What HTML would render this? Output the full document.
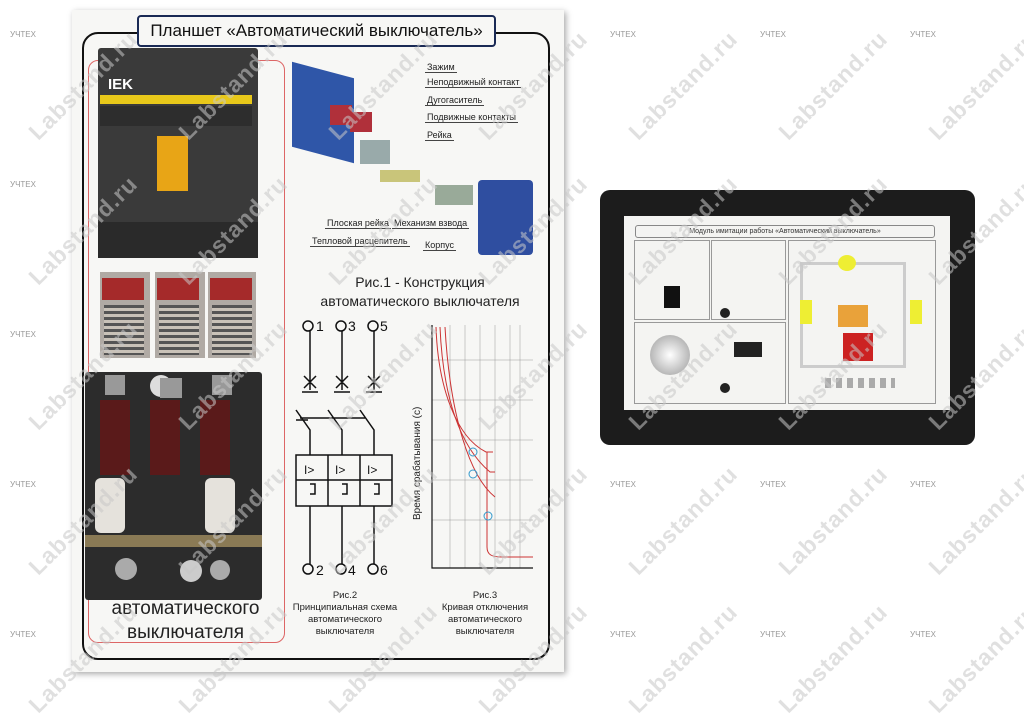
<!DOCTYPE html>
<html><head><meta charset="utf-8"><style>
body{margin:0;width:1024px;height:682px;overflow:hidden;background:#fff;position:relative;font-family:"Liberation Sans",sans-serif}
.a{position:absolute}
.wm{position:absolute;color:#c8c8c8;font-size:23px;font-weight:bold;transform:rotate(-45deg);white-space:nowrap;opacity:.55;z-index:20;letter-spacing:1px}
.lg{position:absolute;color:#999;font-size:8px;z-index:19}
.lbl{position:absolute;font-size:9px;color:#222;border-bottom:1px solid #444;padding:0 2px}
</style></head><body>
<div class="a" style="left:72px;top:10px;width:492px;height:662px;background:#f7f7f5;box-shadow:2px 2px 6px #aaa"></div>
<div class="a" style="left:82px;top:32px;width:464px;height:624px;border:2px solid #111;border-radius:16px"></div>
<div class="a" style="left:137px;top:15px;width:355px;height:28px;border:2px solid #1a2a55;border-radius:4px;background:#f7f7f5;font-size:17px;text-align:center;line-height:28px;color:#111">Планшет «Автоматический выключатель»</div>
<div class="a" style="left:88px;top:60px;width:195px;height:581px;border:1px solid #d66;border-radius:10px"></div>
<div class="a" style="left:98px;top:48px;width:160px;height:210px;background:#3a3a3a;border-radius:3px"></div>
<div class="a" style="left:100px;top:95px;width:152px;height:9px;background:#e8c81a"></div>
<div class="a" style="left:108px;top:76px;font:bold 15px 'Liberation Sans';color:#fff">IEK</div>
<div class="a" style="left:100px;top:106px;width:152px;height:20px;background:#2d2d2d"></div>
<div class="a" style="left:157px;top:136px;width:31px;height:55px;background:#e8a516"></div>
<div class="a" style="left:98px;top:222px;width:160px;height:36px;background:#2a2a2a"></div>
<div class="a" style="left:100px;top:272px;width:50px;height:86px;background:#b0aaa4"></div>
<div class="a" style="left:155px;top:272px;width:50px;height:86px;background:#b0aaa4"></div>
<div class="a" style="left:208px;top:272px;width:48px;height:86px;background:#b0aaa4"></div>
<div class="a" style="left:102px;top:278px;width:42px;height:22px;background:#a52a2a"></div>
<div class="a" style="left:157px;top:278px;width:42px;height:22px;background:#a52a2a"></div>
<div class="a" style="left:210px;top:278px;width:42px;height:22px;background:#a52a2a"></div>
<div class="a" style="left:104px;top:305px;width:40px;height:50px;background:repeating-linear-gradient(#555 0 3px,#c9c2b8 3px 6px)"></div>
<div class="a" style="left:159px;top:305px;width:40px;height:50px;background:repeating-linear-gradient(#555 0 3px,#c9c2b8 3px 6px)"></div>
<div class="a" style="left:212px;top:305px;width:40px;height:50px;background:repeating-linear-gradient(#555 0 3px,#c9c2b8 3px 6px)"></div>
<div class="a" style="left:85px;top:372px;width:177px;height:228px;background:#2c2c2c;border-radius:3px"></div>
<div class="a" style="left:105px;top:375px;width:20px;height:20px;background:#999"></div>
<div class="a" style="left:150px;top:375px;width:22px;height:22px;background:#ddd;border-radius:50%"></div>
<div class="a" style="left:160px;top:378px;width:22px;height:20px;background:#999"></div>
<div class="a" style="left:212px;top:375px;width:20px;height:20px;background:#999"></div>
<div class="a" style="left:100px;top:400px;width:30px;height:75px;background:#5a1a1a"></div>
<div class="a" style="left:150px;top:400px;width:30px;height:75px;background:#5a1a1a"></div>
<div class="a" style="left:200px;top:400px;width:30px;height:75px;background:#5a1a1a"></div>
<div class="a" style="left:95px;top:478px;width:30px;height:55px;background:#e5e2dc;border-radius:6px"></div>
<div class="a" style="left:205px;top:478px;width:30px;height:55px;background:#e5e2dc;border-radius:6px"></div>
<div class="a" style="left:85px;top:535px;width:177px;height:12px;background:#8a7a55"></div>
<div class="a" style="left:115px;top:558px;width:22px;height:22px;background:#aaa;border-radius:50%"></div>
<div class="a" style="left:180px;top:560px;width:22px;height:22px;background:#ccc;border-radius:50%"></div>
<div class="a" style="left:210px;top:560px;width:20px;height:20px;background:#aaa;border-radius:50%"></div>
<div class="a" style="left:88px;top:597px;width:195px;text-align:center;font-size:19px;color:#222;line-height:24px">автоматического<br>выключателя</div>
<div class="a" style="left:292px;top:70px;width:62px;height:85px;background:#2f56a8;transform:skewY(15deg)"></div>
<div class="a" style="left:330px;top:105px;width:22px;height:20px;background:#b0303a"></div>
<div class="a" style="left:350px;top:112px;width:22px;height:20px;background:#b0303a"></div>
<div class="a" style="left:360px;top:140px;width:30px;height:24px;background:#9aa"></div>
<div class="a" style="left:380px;top:170px;width:40px;height:12px;background:#c9c57a"></div>
<div class="a" style="left:435px;top:185px;width:38px;height:20px;background:#9a9"></div>
<div class="a" style="left:478px;top:180px;width:55px;height:75px;background:#2f4ea0;border-radius:4px"></div>
<div class="lbl" style="left:425px;top:62px">Зажим</div>
<div class="lbl" style="left:425px;top:77px">Неподвижный контакт</div>
<div class="lbl" style="left:425px;top:95px">Дугогаситель</div>
<div class="lbl" style="left:425px;top:112px">Подвижные контакты</div>
<div class="lbl" style="left:425px;top:130px">Рейка</div>
<div class="lbl" style="left:325px;top:218px">Плоская рейка</div>
<div class="lbl" style="left:392px;top:218px">Механизм взвода</div>
<div class="lbl" style="left:310px;top:236px">Тепловой расцепитель</div>
<div class="lbl" style="left:423px;top:240px">Корпус</div>
<div class="a" style="left:290px;top:273px;width:260px;text-align:center;font-size:14px;color:#222;line-height:19px">Рис.1 - Конструкция<br>автоматического выключателя</div>
<svg class="a" style="left:290px;top:315px" width="260" height="320" viewBox="290 315 260 320">
<g stroke="#111" stroke-width="1.5" fill="none">
<circle cx="308" cy="326" r="5"/><circle cx="341" cy="326" r="5"/><circle cx="373" cy="326" r="5"/>
<circle cx="308" cy="569" r="5"/><circle cx="341" cy="569" r="5"/><circle cx="373" cy="569" r="5"/>
<path d="M310 331V390M342 331V390M374 331V390M302 392h16M334 392h16M366 392h16M304 376l12 12M316 376l-12 12M336 376l12 12M348 376l-12 12M368 376l12 12M380 376l-12 12"/>
<path d="M296 410l14 20v25M328 410l14 20v25M360 410l14 20v25M296 420l12 0M300 418h65"/>
<rect x="296" y="455" width="96" height="51"/><path d="M296 480h96M328 455v51M360 455v51M310 506v58M342 506v58M374 506v58"/>
<path d="M310 484h5v10h-5M342 484h5v10h-5M374 484h5v10h-5"/>
</g>
<g font-size="14" fill="#111" font-family="Liberation Sans"><text x="316" y="331">1</text><text x="348" y="331">3</text><text x="380" y="331">5</text><text x="316" y="575">2</text><text x="348" y="575">4</text><text x="380" y="575">6</text>
<text x="304" y="474" font-size="12">I&gt;</text><text x="335" y="474" font-size="12">I&gt;</text><text x="367" y="474" font-size="12">I&gt;</text></g>
<g stroke="#999" stroke-width=".5"><path d="M432 360h101M432 400h101M432 440h101M432 480h101M432 520h101M450 325v243M465 325v243M480 325v243M495 325v243M510 325v243M520 325v243"/></g>
<path d="M432 325V568H533" stroke="#111" stroke-width="1.2" fill="none"/>
<g stroke="#c33" fill="none"><path d="M436 327c2 60 20 110 50 125h7"/><path d="M440 327c3 70 20 120 50 145h5"/><path d="M445 327c5 90 25 150 50 170"/><path d="M487 452v95c0 8 5 10 15 10h31"/></g>
<g stroke="#39c" fill="none"><circle cx="473" cy="452" r="4"/><circle cx="473" cy="474" r="4"/><circle cx="488" cy="516" r="4"/></g>
<text x="420" y="520" font-size="10" transform="rotate(-90 420 520)" fill="#222">Время срабатывания (с)</text>
</svg>
<div class="a" style="left:290px;top:590px;width:110px;text-align:center;font-size:9.5px;color:#222;line-height:12px">Рис.2<br>Принципиальная схема<br>автоматического<br>выключателя</div>
<div class="a" style="left:430px;top:590px;width:110px;text-align:center;font-size:9.5px;color:#222;line-height:12px">Рис.3<br>Кривая отключения<br>автоматического<br>выключателя</div>
<div class="a" style="left:600px;top:190px;width:375px;height:255px;background:#1c1c1c;border-radius:10px"></div>
<div class="a" style="left:624px;top:216px;width:326px;height:194px;background:#f4f4f2"></div>
<div class="a" style="left:635px;top:225px;width:298px;height:11px;border:1px solid #888;border-radius:3px;font-size:7px;text-align:center;line-height:11px;color:#333">Модуль имитации работы «Автоматический выключатель»</div>
<div class="a" style="left:634px;top:240px;width:74px;height:78px;border:1px solid #999"></div>
<div class="a" style="left:711px;top:240px;width:73px;height:78px;border:1px solid #999"></div>
<div class="a" style="left:634px;top:322px;width:150px;height:80px;border:1px solid #999"></div>
<div class="a" style="left:788px;top:240px;width:146px;height:162px;border:1px solid #999"></div>
<div class="a" style="left:664px;top:286px;width:16px;height:22px;background:#111"></div>
<div class="a" style="left:650px;top:335px;width:40px;height:40px;border-radius:50%;background:radial-gradient(#fff,#999)"></div>
<div class="a" style="left:734px;top:342px;width:28px;height:15px;background:#222"></div>
<div class="a" style="left:720px;top:308px;width:10px;height:10px;border-radius:50%;background:#222"></div>
<div class="a" style="left:720px;top:383px;width:10px;height:10px;border-radius:50%;background:#222"></div>
<div class="a" style="left:800px;top:262px;width:100px;height:100px;border:3px solid #ccc"></div>
<div class="a" style="left:800px;top:300px;width:12px;height:24px;background:#ee3"></div>
<div class="a" style="left:910px;top:300px;width:12px;height:24px;background:#ee3"></div>
<div class="a" style="left:843px;top:333px;width:30px;height:28px;background:#c22"></div>
<div class="a" style="left:838px;top:305px;width:30px;height:22px;background:#e9a23a"></div>
<div class="a" style="left:838px;top:255px;width:18px;height:16px;background:#ee3;border-radius:50%"></div>
<div class="a" style="left:825px;top:378px;width:70px;height:10px;background:repeating-linear-gradient(90deg,#aaa 0 6px,transparent 6px 11px)"></div>
<div class="wm" style="left:12px;top:72px">Labstand.ru</div>
<div class="wm" style="left:162px;top:72px">Labstand.ru</div>
<div class="wm" style="left:312px;top:72px">Labstand.ru</div>
<div class="wm" style="left:462px;top:72px">Labstand.ru</div>
<div class="wm" style="left:612px;top:72px">Labstand.ru</div>
<div class="wm" style="left:762px;top:72px">Labstand.ru</div>
<div class="wm" style="left:912px;top:72px">Labstand.ru</div>
<div class="wm" style="left:12px;top:217px">Labstand.ru</div>
<div class="wm" style="left:162px;top:217px">Labstand.ru</div>
<div class="wm" style="left:312px;top:217px">Labstand.ru</div>
<div class="wm" style="left:462px;top:217px">Labstand.ru</div>
<div class="wm" style="left:612px;top:217px">Labstand.ru</div>
<div class="wm" style="left:762px;top:217px">Labstand.ru</div>
<div class="wm" style="left:912px;top:217px">Labstand.ru</div>
<div class="wm" style="left:12px;top:362px">Labstand.ru</div>
<div class="wm" style="left:162px;top:362px">Labstand.ru</div>
<div class="wm" style="left:312px;top:362px">Labstand.ru</div>
<div class="wm" style="left:462px;top:362px">Labstand.ru</div>
<div class="wm" style="left:612px;top:362px">Labstand.ru</div>
<div class="wm" style="left:762px;top:362px">Labstand.ru</div>
<div class="wm" style="left:912px;top:362px">Labstand.ru</div>
<div class="wm" style="left:12px;top:507px">Labstand.ru</div>
<div class="wm" style="left:162px;top:507px">Labstand.ru</div>
<div class="wm" style="left:312px;top:507px">Labstand.ru</div>
<div class="wm" style="left:462px;top:507px">Labstand.ru</div>
<div class="wm" style="left:612px;top:507px">Labstand.ru</div>
<div class="wm" style="left:762px;top:507px">Labstand.ru</div>
<div class="wm" style="left:912px;top:507px">Labstand.ru</div>
<div class="wm" style="left:12px;top:645px">Labstand.ru</div>
<div class="wm" style="left:162px;top:645px">Labstand.ru</div>
<div class="wm" style="left:312px;top:645px">Labstand.ru</div>
<div class="wm" style="left:462px;top:645px">Labstand.ru</div>
<div class="wm" style="left:612px;top:645px">Labstand.ru</div>
<div class="wm" style="left:762px;top:645px">Labstand.ru</div>
<div class="wm" style="left:912px;top:645px">Labstand.ru</div>
<div class="lg" style="left:10px;top:30px">УЧТЕХ</div><div class="lg" style="left:610px;top:30px">УЧТЕХ</div><div class="lg" style="left:760px;top:30px">УЧТЕХ</div><div class="lg" style="left:910px;top:30px">УЧТЕХ</div>
<div class="lg" style="left:10px;top:180px">УЧТЕХ</div><div class="lg" style="left:10px;top:330px">УЧТЕХ</div><div class="lg" style="left:10px;top:480px">УЧТЕХ</div><div class="lg" style="left:10px;top:630px">УЧТЕХ</div>
<div class="lg" style="left:610px;top:480px">УЧТЕХ</div><div class="lg" style="left:760px;top:480px">УЧТЕХ</div><div class="lg" style="left:910px;top:480px">УЧТЕХ</div>
<div class="lg" style="left:610px;top:630px">УЧТЕХ</div><div class="lg" style="left:760px;top:630px">УЧТЕХ</div><div class="lg" style="left:910px;top:630px">УЧТЕХ</div>
</body></html>
